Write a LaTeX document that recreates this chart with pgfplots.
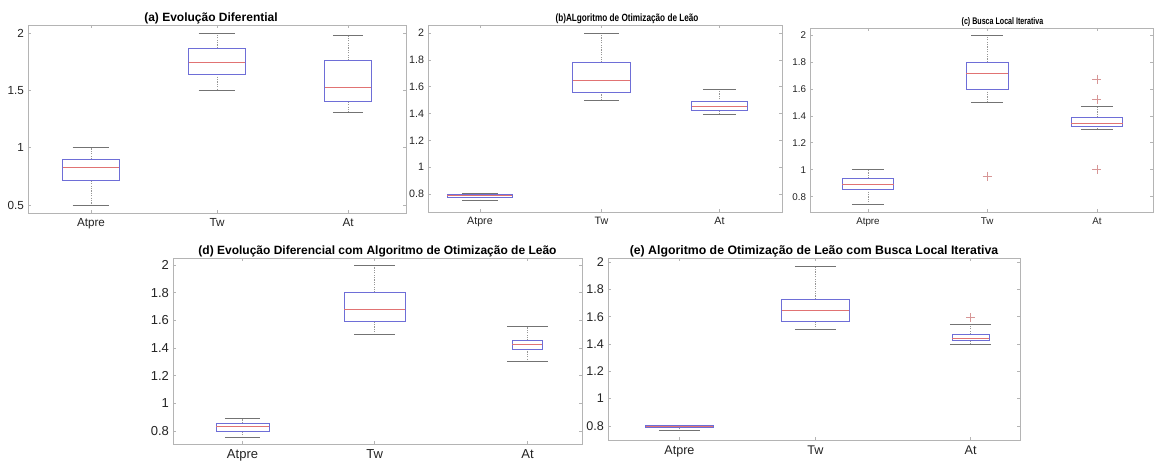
\documentclass[border=0pt]{standalone}
\usepackage{fontspec}
\setmainfont{Liberation Sans}
\newfontfamily\condfont[FakeStretch=0.78]{Liberation Sans}
\newfontfamily\condfontc[FakeStretch=0.74]{Liberation Sans}
\usepackage{pgfplots}
\pgfplotsset{compat=1.18}
\usepgfplotslibrary{statistics}
\definecolor{boxblue}{RGB}{110,110,215}
\definecolor{medred}{RGB}{225,115,115}
\definecolor{whisk}{RGB}{150,150,150}
\definecolor{capc}{RGB}{115,115,115}
\definecolor{framec}{RGB}{180,180,180}
\definecolor{txt}{RGB}{35,35,35}
\definecolor{outc}{RGB}{215,150,150}
\pgfplotsset{
  mlbox/.style={
    scale only axis,
    anchor=south west,
    xmin=0.5, xmax=3.5,
    axis line style={framec, line width=0.9pt},
    tick style={framec, line width=0.6pt},
    major tick length=3pt,
    tick align=inside,
    xticklabels={Atpre,Tw,At},
    /pgf/number format/assume math mode=true,
    ticklabel style={text=txt},
    yticklabel style={xshift=-0.5pt},
    xticklabel style={yshift=-2pt},
    title style={at={(0.5,1)}, anchor=south, inner sep=1pt, yshift=-6pt, text=black},
    boxplot/draw direction=y,
    boxplot/every box/.style={draw=boxblue, solid, line width=0.8pt},
    boxplot/every median/.style={draw=medred, solid, line width=0.7pt},
    boxplot/draw/lower whisker/.code={%
      \draw[whisk, line width=0.6pt, dash pattern=on 1.2pt off 1.2pt]
        (boxplot cs:\pgfplotsboxplotvalue{lower quartile}) --
        (boxplot cs:\pgfplotsboxplotvalue{lower whisker});
      \draw[capc, line width=0.7pt]
        (boxplot whisker cs:\pgfplotsboxplotvalue{lower whisker},0) --
        (boxplot whisker cs:\pgfplotsboxplotvalue{lower whisker},1);
    },
    boxplot/draw/upper whisker/.code={%
      \draw[whisk, line width=0.6pt, dash pattern=on 1.2pt off 1.2pt]
        (boxplot cs:\pgfplotsboxplotvalue{upper quartile}) --
        (boxplot cs:\pgfplotsboxplotvalue{upper whisker});
      \draw[capc, line width=0.7pt]
        (boxplot whisker cs:\pgfplotsboxplotvalue{upper whisker},0) --
        (boxplot whisker cs:\pgfplotsboxplotvalue{upper whisker},1);
    },
  },
  outl/.style={only marks, mark=+, mark size=4.5pt, mark options={draw=outc, line width=0.6pt}},
}
\begin{document}
\begin{tikzpicture}
\useasboundingbox (0,0) rectangle (1155pt,463pt);

% (a)
\begin{axis}[mlbox, at={(28pt,250pt)}, width=378pt, height=188pt,
  ymin=0.43, ymax=2.07, ytick={0.5,1,1.5,2},
  xtick={1,2,3.04},
  ticklabel style={font=\fontsize{11.7}{13}\selectfont},
  title style={font=\bfseries\fontsize{12}{13}\selectfont, xshift=-6pt},
  title={(a) Evolução Diferential}]
\addplot[boxplot prepared={draw position=1, lower whisker=0.5, lower quartile=0.71, median=0.83, upper quartile=0.90, upper whisker=1.0, box extend=0.45, whisker extend=0.29}] coordinates {};
\addplot[boxplot prepared={draw position=2, lower whisker=1.5, lower quartile=1.64, median=1.745, upper quartile=1.87, upper whisker=2.0, box extend=0.45, whisker extend=0.29}] coordinates {};
\addplot[boxplot prepared={draw position=3.04, lower whisker=1.305, lower quartile=1.40, median=1.53, upper quartile=1.76, upper whisker=1.98, box extend=0.37, whisker extend=0.24}] coordinates {};
\end{axis}

% (b)
\begin{axis}[mlbox, at={(428pt,251pt)}, width=354pt, height=187pt,
  ymin=0.666, ymax=2.06, ytick={0.8,1,1.2,1.4,1.6,1.8,2},
  xtick={0.94,1.97,2.97},
  ticklabel style={font=\fontsize{10.7}{12}\selectfont},
  title style={font=\condfont\bfseries\fontsize{10.5}{12}\selectfont, xshift=22pt},
  title={(b)ALgoritmo de Otimização de Leão}]
\addplot[boxplot prepared={draw position=0.94, lower whisker=0.755, lower quartile=0.777, median=0.787, upper quartile=0.798, upper whisker=0.805, box extend=0.55, whisker extend=0.3}] coordinates {};
\addplot[boxplot prepared={draw position=1.97, lower whisker=1.50, lower quartile=1.56, median=1.645, upper quartile=1.78, upper whisker=2.0, box extend=0.49, whisker extend=0.29}] coordinates {};
\addplot[boxplot prepared={draw position=2.97, lower whisker=1.394, lower quartile=1.42, median=1.45, upper quartile=1.488, upper whisker=1.583, box extend=0.47, whisker extend=0.28}] coordinates {};
\end{axis}

% (c)
\begin{axis}[mlbox, at={(810pt,251pt)}, width=343pt, height=184pt,
  ymin=0.686, ymax=2.052, ytick={0.8,1,1.2,1.4,1.6,1.8,2},
  xtick={1.007,2.05,3.01},
  ticklabel style={font=\fontsize{9.8}{11}\selectfont},
  title style={font=\condfontc\bfseries\fontsize{9.6}{11}\selectfont, xshift=21pt},
  title={(c) Busca Local Iterativa}]
\addplot[boxplot prepared={draw position=1.007, lower whisker=0.743, lower quartile=0.855, median=0.891, upper quartile=0.936, upper whisker=1.0, box extend=0.45, whisker extend=0.28}] coordinates {};
\addplot[boxplot prepared={draw position=2.05, lower whisker=1.50, lower quartile=1.597, median=1.716, upper quartile=1.80, upper whisker=2.0, box extend=0.37, whisker extend=0.28}] coordinates {};
\addplot[boxplot prepared={draw position=3.01, lower whisker=1.30, lower quartile=1.324, median=1.344, upper quartile=1.389, upper whisker=1.473, box extend=0.45, whisker extend=0.28}] coordinates {};
\addplot[outl] coordinates {(2.05,0.953) (3.01,1.673) (3.01,1.523) (3.01,1.003)};
\end{axis}

% (d)
\begin{axis}[mlbox, at={(173pt,19pt)}, width=409pt, height=186pt,
  ymin=0.706, ymax=2.05, ytick={0.8,1,1.2,1.4,1.6,1.8,2},
  xtick={1.01,1.98,3.10},
  ticklabel style={font=\fontsize{13}{14}\selectfont},
  title style={font=\bfseries\fontsize{12}{13}\selectfont},
  title={(d) Evolução Diferencial com Algoritmo de Otimização de Leão}]
\addplot[boxplot prepared={draw position=1.01, lower whisker=0.755, lower quartile=0.794, median=0.830, upper quartile=0.854, upper whisker=0.89, box extend=0.39, whisker extend=0.26}] coordinates {};
\addplot[boxplot prepared={draw position=1.98, lower whisker=1.50, lower quartile=1.59, median=1.68, upper quartile=1.80, upper whisker=2.0, box extend=0.45, whisker extend=0.3}] coordinates {};
\addplot[boxplot prepared={draw position=3.10, lower whisker=1.302, lower quartile=1.393, median=1.424, upper quartile=1.453, upper whisker=1.554, box extend=0.22, whisker extend=0.3}] coordinates {};
\end{axis}

% (e)
\begin{axis}[mlbox, at={(608pt,23pt)}, width=412pt, height=182pt,
  ymin=0.697, ymax=2.03, ytick={0.8,1,1.2,1.4,1.6,1.8,2},
  xtick={1.02,2.01,3.14},
  ticklabel style={font=\fontsize{12.6}{14}\selectfont},
  title style={font=\bfseries\fontsize{12.3}{13}\selectfont},
  title={(e) Algoritmo de Otimização de Leão com Busca Local Iterativa}]
\addplot[boxplot prepared={draw position=1.02, lower whisker=0.77, lower quartile=0.790, median=0.80, upper quartile=0.807, upper whisker=0.807, box extend=0.49, whisker extend=0.3}] coordinates {};
\addplot[boxplot prepared={draw position=2.01, lower whisker=1.509, lower quartile=1.565, median=1.643, upper quartile=1.729, upper whisker=1.968, box extend=0.49, whisker extend=0.3}] coordinates {};
\addplot[boxplot prepared={draw position=3.14, lower whisker=1.398, lower quartile=1.423, median=1.438, upper quartile=1.472, upper whisker=1.545, box extend=0.27, whisker extend=0.3}] coordinates {};
\addplot[outl] coordinates {(3.14,1.594)};
\end{axis}
\end{tikzpicture}
\end{document}
